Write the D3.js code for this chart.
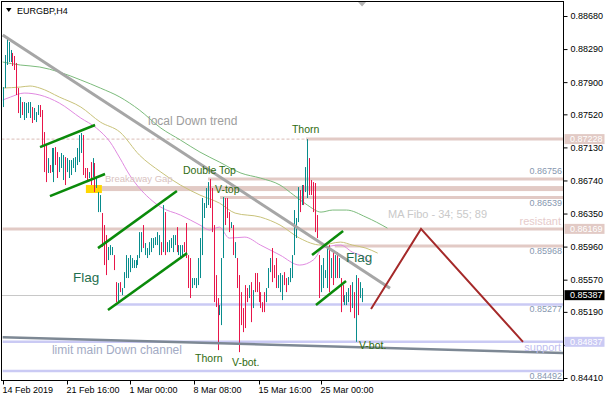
<!DOCTYPE html>
<html><head><meta charset="utf-8">
<script src="https://cdn.jsdelivr.net/npm/d3@7/dist/d3.min.js"></script>
<style>
body{margin:0;background:#fff;}
svg{display:block;}
text{font-family:"Liberation Sans",Arial,sans-serif;}
</style>
</head><body>
<svg id="chart" width="610" height="400"></svg>
<script>
// ---------------- DATA ----------------
const symbolTitle = "EURGBP,H4";
const highs = [0.87842,0.88220,0.88421,0.88373,0.88279,0.88244,0.88208,0.88126,0.87830,0.87724,
0.87665,0.87665,0.87654,0.87665,0.87665,0.87606,0.87595,0.87547,0.87630,0.87630,
0.87571,0.87311,0.87158,0.87004,0.86922,0.87123,0.87123,0.87134,0.87075,0.87016,
0.87064,0.87040,0.87016,0.87004,0.86981,0.86981,0.87004,0.87016,0.87123,0.87276,
0.87300,0.87276,0.86887,0.86887,0.86839,0.86957,0.87004,0.86946,0.86769,0.86603,
0.86568,0.86356,0.86214,0.86096,0.85955,0.85978,0.85955,0.85860,0.85541,0.85530,
0.85541,0.85471,0.85659,0.85860,0.85825,0.85860,0.85825,0.85801,0.85801,0.85860,
0.86131,0.86131,0.86214,0.86002,0.85943,0.86013,0.86061,0.86061,0.86072,0.86131,
0.86096,0.86013,0.86450,0.86367,0.86013,0.86037,0.86061,0.86096,0.86096,0.86190,
0.85978,0.85978,0.85978,0.86013,0.86238,0.85860,0.85825,0.85589,0.85589,0.85589,
0.85825,0.86061,0.86533,0.86474,0.86651,0.86721,0.86757,0.86651,0.86214,0.85624,
0.85353,0.85270,0.85825,0.86544,0.86533,0.86533,0.86367,0.86249,0.86214,0.86013,
0.85825,0.85624,0.85423,0.85235,0.85506,0.85471,0.85506,0.85541,0.85447,0.85648,
0.85648,0.85541,0.85423,0.85305,0.85423,0.85471,0.85707,0.85825,0.85943,0.85742,
0.85825,0.85624,0.85648,0.85624,0.85659,0.85589,0.85601,0.85707,0.85860,0.86391,
0.86297,0.86662,0.86627,0.86686,0.86686,0.86898,0.87228,0.87004,0.86745,0.86721,
0.86710,0.86332,0.85860,0.85742,0.85825,0.85683,0.85943,0.85978,0.85825,0.85895,
0.85860,0.85895,0.85825,0.85589,0.85506,0.85388,0.85423,0.85471,0.85506,0.85541,
0.85423,0.85624,0.85589,0.85541,0.85471];
const lows = [0.87606,0.87830,0.88102,0.88137,0.88137,0.88090,0.88043,0.87748,0.87535,0.87477,
0.87512,0.87453,0.87477,0.87535,0.87477,0.87418,0.87453,0.87429,0.87512,0.87488,
0.87134,0.86839,0.86721,0.86828,0.86828,0.86839,0.86721,0.86922,0.86769,0.86839,
0.86887,0.86745,0.86686,0.86839,0.86769,0.86804,0.86887,0.86839,0.86922,0.86957,
0.87064,0.86804,0.86769,0.86721,0.86769,0.86686,0.86780,0.86603,0.86651,0.86367,
0.86367,0.85955,0.85742,0.85624,0.85801,0.85860,0.85860,0.85683,0.85305,0.85294,
0.85423,0.85388,0.85471,0.85589,0.85589,0.85659,0.85707,0.85707,0.85707,0.85742,
0.85825,0.85895,0.85943,0.85860,0.85825,0.85860,0.85895,0.85943,0.85978,0.85978,
0.85860,0.85860,0.85895,0.85860,0.85895,0.85895,0.85943,0.85895,0.85978,0.85895,
0.85860,0.85825,0.85860,0.85895,0.85825,0.85471,0.85353,0.85471,0.85506,0.85471,
0.85506,0.85589,0.85860,0.86297,0.86415,0.86450,0.86415,0.86131,0.85305,0.85247,
0.84739,0.85152,0.85034,0.85825,0.86214,0.86297,0.86131,0.86179,0.85860,0.85825,
0.85471,0.84715,0.85034,0.84951,0.84999,0.85305,0.85353,0.85069,0.85235,0.85423,
0.85423,0.85305,0.85235,0.85187,0.85187,0.85305,0.85471,0.85659,0.85541,0.85589,
0.85471,0.85471,0.85423,0.85329,0.85506,0.85423,0.85506,0.85541,0.85589,0.85860,
0.86061,0.86249,0.86367,0.86450,0.86450,0.86603,0.86533,0.86568,0.86568,0.86367,
0.86131,0.86061,0.85353,0.85423,0.85471,0.85589,0.85471,0.85423,0.85589,0.85506,
0.85589,0.85589,0.85589,0.85187,0.85305,0.85270,0.85270,0.85305,0.85187,0.85235,
0.85116,0.84837,0.85152,0.85353,0.85305];
const directions = "uuuuuddddu" + "duuuuduuud" + "ddduduuddu" + "uuduuuuuuu" + "udddududuu" +
  "uddduuuddu" + "duuuuuuuuu" + "uuduuuuuuu" + "ududuuuuud" + "uuudddduuu" +
  "uuuuuudddd" + "duuudddudu" + "ddddddudud" + "ddddduuudd" + "duuudduuuu" +
  "uududuuddd" + "ddduuuudud" + "ududduuudu" + "duduu";
const lastPrice = 0.85387;

const timeTickIdx = [0, 33, 65, 98, 131, 163];
const timeTickLabels = ["14 Feb 2019", "21 Feb 16:00", "1 Mar 00:00", "8 Mar 08:00", "15 Mar 16:00", "25 Mar 00:00"];
const priceTicks = [0.88680, 0.88290, 0.87900, 0.87520, 0.87130, 0.86740, 0.86350, 0.85960, 0.85570, 0.85190, 0.84800, 0.84410];
const hiddenPriceTicks = [0.84800]; // label covered by the support box

// moving averages (bar index, value)
const ma34 = [[0,0.87689],[4,0.87724],[11,0.87771],[19,0.87748],[29,0.87653],[40,0.87476],[48,0.87358],[55,0.87193],[60,0.87004],[65,0.86804],[70,0.86650],[75,0.86532],[81,0.86425],[91,0.86332],[101,0.86214],[106,0.86155],[111,0.86190],[116,0.86060],[124,0.86072],[132,0.85978],[142,0.85860],[152,0.85742],[159,0.85801],[164,0.85942],[173,0.85978],[179,0.85895],[186,0.85824],[188,0.85760]];
const ma55 = [[0,0.87830],[9,0.87842],[14,0.87854],[19,0.87830],[29,0.87724],[40,0.87606],[50,0.87429],[60,0.87311],[70,0.87040],[81,0.86839],[91,0.86686],[101,0.86568],[111,0.86473],[119,0.86355],[132,0.86308],[142,0.86214],[152,0.86060],[163,0.85978],[173,0.86013],[179,0.85978],[186,0.85942],[192,0.85883]];
const ma89 = [[0,0.88137],[9,0.88102],[19,0.88078],[29,0.88019],[40,0.87925],[50,0.87830],[60,0.87724],[70,0.87571],[81,0.87358],[91,0.87217],[101,0.87075],[111,0.86957],[122,0.86827],[132,0.86768],[142,0.86686],[149,0.86568],[156,0.86450],[163,0.86367],[169,0.86391],[176,0.86391],[186,0.86308],[197,0.86178]];

// trend lines (bar index, price)
const localDownTrend = [[0, 0.88456], [198.3, 0.85470]];
const mainChannelLimit = [[0, 0.84892], [287, 0.84704]];
const flagLines = [
  [[19.1, 0.87134], [47.3, 0.87394]],
  [[24.2, 0.86556], [52.4, 0.86816]],
  [[48.8, 0.85942], [89.2, 0.86615]],
  [[53.9, 0.85211], [94.4, 0.85883]],
  [[158.4, 0.85860], [174.3, 0.86143]],
  [[160.4, 0.85270], [175.8, 0.85553]]
];
const projectionPath = [[188.6, 0.85223], [214.2, 0.86169], [266.4, 0.84837]];

// horizontal levels
const resistancePrices = [0.87228, 0.86756, 0.86539, 0.86169, 0.85968];
const resistanceStart = [155.3, 105.1, 111.3, 0, 170];
const supportPrices = [0.85277, 0.84837, 0.84492];
const supportStart = [57.5, 0, 0];
const gapBand = {start: 50.8, top: 0.86674, bottom: 0.86615};
const gapBox = {start: 42.6, end: 50.8, top: 0.86686, bottom: 0.86592};
const levelTextPrices = [0.86756, 0.86539, 0.85968, 0.85277, 0.84492];

// annotations [text, bar index, price]
const greenNotes = [["Thorn", 148.1, 0.87300], ["Double Top", 92.3, 0.86816], ["V-top", 108.7, 0.86592],
  ["Thorn", 98.5, 0.84597], ["V-bot.", 117.4, 0.84550], ["V-bot.", 182.4, 0.84751]];
const flagNotes = [["Flag", 36, 0.85541], ["Flag", 175.8, 0.85777]];

// ---------------- DRAW ----------------
const svg = d3.select("#chart");
const L = 1.5, T = 1.5, R = 563.5, B = 380.5;
const x = d3.scaleLinear().domain([0, 287]).range([2.7, 563.2]);
const y = d3.scaleLinear().domain([0.84410, 0.88680]).range([378, 16]);
const fmt = d3.format(".5f");

const COL_UP = "#088c8c", COL_DN = "#e8164a";
const PINK = "#e2cac5", LAV = "#cacaf4";

svg.append("defs").append("clipPath").attr("id", "plotclip")
  .append("rect").attr("x", L).attr("y", T).attr("width", R - L).attr("height", B - T);
const g = svg.append("g").attr("clip-path", "url(#plotclip)");
const px = i => Math.round(x(i)) + 0.5;

// levels
g.append("line").attr("x1", L).attr("x2", x(resistanceStart[0])).attr("y1", y(resistancePrices[0])).attr("y2", y(resistancePrices[0]))
  .attr("stroke", PINK).attr("stroke-width", 1.2).attr("stroke-dasharray", "3,2");
resistancePrices.forEach((p, k) => {
  g.append("line").attr("x1", x(resistanceStart[k])).attr("x2", R).attr("y1", y(p)).attr("y2", y(p))
    .attr("stroke", PINK).attr("stroke-width", 3);
});
g.append("rect").attr("x", x(gapBand.start)).attr("width", R - x(gapBand.start))
  .attr("y", y(gapBand.top)).attr("height", y(gapBand.bottom) - y(gapBand.top)).attr("fill", PINK);
g.append("rect").attr("x", x(gapBox.start)).attr("width", x(gapBox.end) - x(gapBox.start))
  .attr("y", y(gapBox.top)).attr("height", y(gapBox.bottom) - y(gapBox.top)).attr("fill", "#ffd700");
supportPrices.forEach((p, k) => {
  g.append("line").attr("x1", x(supportStart[k])).attr("x2", R).attr("y1", y(p)).attr("y2", y(p))
    .attr("stroke", LAV).attr("stroke-width", 2.6);
});
g.append("line").attr("x1", L).attr("x2", R).attr("y1", Math.round(y(lastPrice)) + 0.5).attr("y2", Math.round(y(lastPrice)) + 0.5)
  .attr("stroke", "#c8c8c8").attr("stroke-width", 1);

// moving averages
const maLine = d3.line().x(d => x(d[0])).y(d => y(d[1])).curve(d3.curveMonotoneX);
[[ma89, "#7cbb7c"], [ma55, "#c8c27a"], [ma34, "#e08ae0"]].forEach(([data, c]) => {
  g.append("path").datum(data).attr("d", maLine).attr("fill", "none").attr("stroke", c).attr("stroke-width", 1);
});

// bars
g.selectAll("line.bar").data(highs).join("line").attr("class", "bar")
  .attr("x1", (d, i) => px(i)).attr("x2", (d, i) => px(i))
  .attr("y1", d => y(d)).attr("y2", (d, i) => y(lows[i]))
  .attr("stroke", (d, i) => directions[i] === "u" ? COL_UP : COL_DN).attr("stroke-width", 1);

// trend lines
const seg = d3.line().x(d => x(d[0])).y(d => y(d[1]));
g.append("path").datum(localDownTrend).attr("d", seg).attr("stroke", "#a6a6a6").attr("stroke-width", 3).attr("fill", "none");
g.append("path").datum(mainChannelLimit).attr("d", seg).attr("stroke", "#7d8894").attr("stroke-width", 2.5).attr("fill", "none");
flagLines.forEach(l => g.append("path").datum(l).attr("d", seg).attr("stroke", "#0a8a0a").attr("stroke-width", 2.5).attr("fill", "none"));
g.append("path").datum(projectionPath).attr("d", seg).attr("stroke", "#a52a2a").attr("stroke-width", 2).attr("fill", "none");

// annotations
const note = (t, i, p, size, col, anchor) => g.append("text").attr("x", x(i)).attr("y", y(p))
  .attr("font-size", size).attr("fill", col).attr("text-anchor", anchor || "start").text(t);
note("local Down trend", 74.4, 0.87394, "12px", "#9d9d9d");
note("Breakaway Gap", 52.4, 0.86721, "9.5px", "#d9c3bf");
note("MA Fibo - 34; 55; 89", 197.3, 0.86297, "11px", "#c9c9c9");
note("resistant", 285.9, 0.86214, "11px", "#e6cbcb", "end");
note("support", 285.9, 0.84727, "11px", "#bfbff0", "end");
note("limit main Down channel", 25.2, 0.84692, "12px", "#a3abc4");
greenNotes.forEach(([t, i, p]) => note(t, i, p, "10.5px", "#2f6b10"));
flagNotes.forEach(([t, i, p]) => note(t, i, p, "13.5px", "#1f6f4f"));
levelTextPrices.forEach((p, k) => {
  const off = k === 0 ? -5 : 8;
  g.append("text").attr("x", 562).attr("y", y(p) + off).attr("text-anchor", "end")
    .attr("font-size", "9px").attr("fill", "#8798b0").text(fmt(p));
});

// frame
svg.append("rect").attr("x", L).attr("y", T).attr("width", R - L).attr("height", B - T)
  .attr("fill", "none").attr("stroke", "#000").attr("stroke-width", 1);

// price axis
const ay = svg.append("g").attr("transform", `translate(${R},0)`)
  .call(d3.axisRight(y).tickValues(priceTicks)
    .tickFormat(d => hiddenPriceTicks.includes(d) ? "" : fmt(d)).tickSize(4).tickPadding(3));
ay.select(".domain").remove();
ay.selectAll("text").attr("font-size", "9px").attr("font-family", "Liberation Sans, Arial, sans-serif").attr("fill", "#000");
ay.selectAll("line").attr("stroke", "#000");

// time axis
const ax = svg.append("g").attr("transform", `translate(0,${B})`);
timeTickIdx.forEach((ti, k) => {
  const xx = Math.round(x(ti)) + 0.5;
  ax.append("line").attr("x1", xx).attr("x2", xx).attr("y1", 0).attr("y2", 4).attr("stroke", "#000");
  ax.append("text").attr("x", xx - 1).attr("y", 12.5).attr("font-size", "9px").attr("fill", "#000").text(timeTickLabels[k]);
});

// value boxes on price axis
const boxes = [[0.87228, PINK, "#fff"], [0.86169, PINK, "#fff"], [lastPrice, "#000", "#fff"], [0.84837, LAV, "#fff"]];
boxes.forEach(([p, bg, fg]) => {
  const yy = y(p);
  svg.append("rect").attr("x", 564.5).attr("y", yy - 5).attr("width", 40).attr("height", 10).attr("fill", bg);
  svg.append("text").attr("x", 570).attr("y", yy + 3.2).attr("font-size", "9px").attr("fill", fg).text(fmt(p));
});

// title & markers
svg.append("path").attr("d", "M6,8 L11.5,8 L8.75,12 Z").attr("fill", "#000");
svg.append("text").attr("x", 17).attr("y", 13.5).attr("font-size", "9px").attr("fill", "#000").text(symbolTitle);
svg.append("path").attr("d", `M${x(184) - 4},2 L${x(184) + 4},2 L${x(184)},6.5 Z`).attr("fill", "#b4b4b4");
</script>
</body></html>
